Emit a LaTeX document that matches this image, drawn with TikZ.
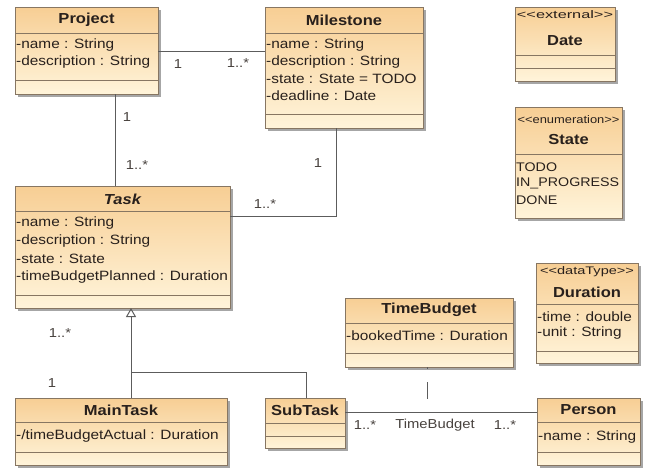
\documentclass[tikz,border=0pt]{standalone}
\usepackage{fontspec}
\setmainfont{Liberation Sans}[FakeStretch=1.14]
\usetikzlibrary{shadows,arrows.meta}

\definecolor{clsTop}{RGB}{247,206,148}
\definecolor{clsBot}{RGB}{255,244,218}
\definecolor{clsEdge}{RGB}{135,118,98}
\definecolor{wireCol}{RGB}{92,92,92}
\definecolor{ink}{RGB}{40,32,28}

\tikzset{
  cls/.style={draw=clsEdge, line width=0.9pt, top color=clsTop, bottom color=clsBot,
    anchor=north west, inner sep=0pt, outer sep=0pt,
    drop shadow={shadow xshift=2.5pt, shadow yshift=-2.5pt, fill=black, opacity=0.35}},
  sep/.style={draw=clsEdge, line width=0.8pt},
  cname/.style={font=\fontsize{14.5}{16}\selectfont\bfseries, text=ink, inner sep=0pt},
  attr/.style={font=\fontsize{13.5}{16}\selectfont, text=ink, anchor=west, inner sep=0pt},
  literal/.style={font=\fontsize{12.5}{15}\selectfont, text=ink, anchor=west, inner sep=0pt},
  stereo/.style={font=\fontsize{11}{13}\selectfont, text=ink, inner sep=0pt},
  mult/.style={font=\fontsize{13}{15}\selectfont, text=ink!85, inner sep=0pt},
  wire/.style={draw=wireCol, line width=1pt},
}

\begin{document}
\begin{tikzpicture}[x=1pt, y=-1pt]
\useasboundingbox[fill=white] (0,0) rectangle (645,467);

% ---------- class boxes ----------
\node[cls, minimum width=143pt, minimum height=87pt]  (project)    at (15,7) {};
\node[cls, minimum width=158pt, minimum height=121pt] (milestone)  at (265,7) {};
\node[cls, minimum width=100pt, minimum height=74pt]  (date)       at (515,7) {};
\node[cls, minimum width=107pt, minimum height=111pt] (state)      at (515,107) {};
\node[cls, minimum width=215pt, minimum height=122pt] (task)       at (15,186) {};
\node[cls, minimum width=212pt, minimum height=67pt]  (maintask)   at (15,398) {};
\node[cls, minimum width=80pt,  minimum height=50pt]  (subtask)    at (265,398) {};
\node[cls, minimum width=168pt, minimum height=69pt]  (timebudget) at (345,298) {};
\node[cls, minimum width=102pt, minimum height=100pt] (duration)   at (536,263) {};
\node[cls, minimum width=103pt, minimum height=67pt]  (person)     at (537,398) {};

% ---------- compartment separators ----------
\foreach \c/\ya/\yb in {project/33/80, milestone/33/114, date/55/68, task/211/295,
                        maintask/422/452, subtask/423/436, timebudget/323/353,
                        duration/304/351, person/422/452}{
  \draw[sep] (\c.west |- 0,\ya) -- (\c.east |- 0,\ya);
  \draw[sep] (\c.west |- 0,\yb) -- (\c.east |- 0,\yb);
}
\draw[sep] (state.west |- 0,154) -- (state.east |- 0,154);

% ---------- class names and stereotypes ----------
\node[cname] (projectName)    at (project.north |- 0,20)    {Project};
\node[cname] (milestoneName)  at (milestone.north |- 0,20)  {Milestone};
\node[stereo] (dateStereo)    at (date.north |- 0,15)       {\scalebox{1.3}[1]{<{}<external>{}>}};
\node[cname] (dateName)       at (date.north |- 0,41)       {Date};
\node[stereo] (stateStereo)   at (state.north |- 0,120)     {\scalebox{1.03}[1]{<{}<enumeration>{}>}};
\node[cname] (stateName)      at (state.north |- 0,140)     {State};
\node[cname] (taskName)       at (task.north |- 0,199)      {\itshape Task};
\node[cname] (maintaskName)   at (maintask.north |- 0,410)  {MainTask};
\node[cname] (subtaskName)    at (subtask.north |- 0,410)   {SubTask};
\node[cname] (timebudgetName) at (timebudget.north |- 0,310){TimeBudget};
\node[stereo] (durStereo)     at (duration.north |- 0,272)  {\scalebox{1.16}[1]{<{}<dataType>{}>}};
\node[cname] (durationName)   at (duration.north |- 0,292)  {Duration};
\node[cname] (personName)     at (person.north |- 0,410)    {Person};

% ---------- attributes and literals ----------
\node[attr] (pA1) at (16,45) {-name : String};
\node[attr] (pA2) at (16,62) {-description : String};

\node[attr] (mA1) at (266,45) {-name : String};
\node[attr] (mA2) at (266,62) {-description : String};
\node[attr] (mA3) at (266,79) {-state : State = TODO};
\node[attr] (mA4) at (266,96) {-deadline : Date};

\node[literal] (sL1) at (516,167) {TODO};
\node[literal] (sL2) at (516,183) {IN\_PROGRESS};
\node[literal] (sL3) at (516,200) {DONE};

\node[attr] (tA1) at (16,223) {-name : String};
\node[attr] (tA2) at (16,241) {-description : String};
\node[attr] (tA3) at (16,259) {-state : State};
\node[attr] (tA4) at (16,277) {-timeBudgetPlanned : Duration};

\node[attr] (mtA1) at (16,436) {-/timeBudgetActual : Duration};
\node[attr] (tbA1) at (346,336) {-bookedTime : Duration};
\node[attr] (dA1)  at (537,317) {-time : double};
\node[attr] (dA2)  at (537,333) {-unit : String};
\node[attr] (peA1) at (538,437) {-name : String};

% ---------- associations ----------
\draw[wire] (project.east |- 0,51) -- (milestone.west |- 0,51);
\draw[wire] (project.south -| 115,0) -- (task.north -| 115,0);
\draw[wire] (milestone.south -| 336,0) |- (task.east |- 0,216);
\draw[wire] (subtask.east |- 0,412) -- (person.west |- 0,412);

% association class link
\coordinate (assocPt) at (427,412);
\draw[wire, line width=0.9pt, dash pattern=on 2pt off 13pt on 17pt off 13pt]
  (timebudget.south -| assocPt) -- (assocPt);

% ---------- generalization ----------
\coordinate (genJoin) at (131,372);
\draw[wire, -{Triangle[open, length=9pt, width=10pt, line width=1pt]}]
  (maintask.north -| genJoin) -- (task.south -| genJoin);
\draw[wire] (subtask.north -| 306,0) |- (genJoin);

% ---------- multiplicities and labels ----------
\node[mult] (m1) at (178,64)  {1};
\node[mult] (m2) at (238,63)  {1..*};
\node[mult] (m3) at (127,117) {1};
\node[mult] (m4) at (137,165) {1..*};
\node[mult] (m5) at (318,163) {1};
\node[mult] (m6) at (265,204) {1..*};
\node[mult] (m7) at (60,333)  {1..*};
\node[mult] (m8) at (52,383)  {1};
\node[mult] (m9) at (365,425) {1..*};
\node[mult] (assocName) at (435,425) {TimeBudget};
\node[mult] (m10) at (505,425) {1..*};
\end{tikzpicture}
\end{document}
